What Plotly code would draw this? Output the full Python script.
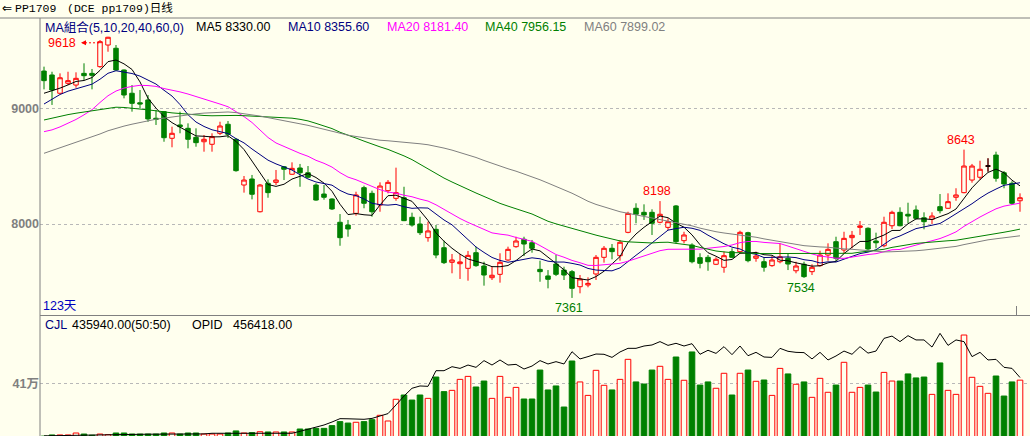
import plotly.graph_objects as go
import pandas as pd

W, H = 1030, 436
BG = "#FFFFEE"
UP = "#FF0000"
DOWN = "#008000"
GRAY = "#808080"

# ---------------- data ----------------
days = list(range(123))

opens = [9322, 9288, 9130, 9216, 9201, 9302, 9302, 9360, 9547, 9519,
         9331, 9130, 9048, 9072, 8914, 8971, 8741, 8856, 8827, 8749,
         8711, 8689, 8784, 8862, 8732, 8337, 8389, 8106, 8352, 8360,
         8495, 8430, 8484, 8443, 8337, 8259, 8216, 8015, 7991, 8092,
         8314, 8265, 8164, 8288, 8222, 8227, 8058, 8000, 7882, 7954,
         7795, 7669, 7657, 7617, 7752, 7637, 7536, 7565, 7689, 7804,
         7868, 7838, 7608, 7551, 7654, 7602, 7588, 7458, 7473, 7568,
         7712, 7790, 7726, 7928, 8136, 8101, 8101, 8015, 7971, 8156,
         7856, 7818, 7709, 7712, 7652, 7626, 7761, 7761, 7925, 7704,
         7674, 7640, 7674, 7704, 7596, 7652, 7588, 7640, 7732, 7847,
         7775, 7882, 7971, 7963, 7853, 7812, 7985, 8101, 8084, 8121,
         8054, 8041, 8150, 8136, 8231, 8271, 8380, 8404, 8501, 8596,
         8443, 8352, 8201]
highs = [9360, 9316, 9302, 9316, 9311, 9389, 9340, 9590, 9618, 9547,
         9335, 9201, 9158, 9115, 8985, 8975, 8841, 8971, 8870, 8827,
         8769, 8784, 8884, 8890, 8741, 8415, 8424, 8346, 8386, 8467,
         8501, 8533, 8519, 8501, 8352, 8337, 8222, 8086, 8035, 8279,
         8331, 8288, 8360, 8380, 8487, 8322, 8098, 8063, 8020, 7991,
         7856, 7741, 7741, 7767, 7804, 7674, 7631, 7747, 7804, 7890,
         7890, 7862, 7683, 7602, 7732, 7631, 7602, 7559, 7539, 7732,
         7810, 7827, 7862, 8106, 8179, 8170, 8127, 8198, 8049, 8164,
         7933, 7833, 7747, 7732, 7712, 7761, 7790, 7942, 7933, 7761,
         7712, 7723, 7833, 7741, 7674, 7674, 7652, 7769, 7833, 7890,
         7933, 7940, 8026, 7971, 7925, 8063, 8115, 8144, 8184, 8160,
         8101, 8101, 8259, 8265, 8309, 8643, 8519, 8547, 8568, 8625,
         8458, 8370, 8265]
lows = [9164, 9029, 9125, 9201, 9178, 9245, 9164, 9350, 9489, 9325,
        9086, 8971, 9000, 8884, 8856, 8711, 8663, 8784, 8654, 8668,
        8625, 8625, 8769, 8743, 8452, 8271, 8213, 8100, 8227, 8337,
        8380, 8425, 8322, 8395, 8201, 8210, 8121, 7812, 7890, 8072,
        8136, 8063, 8106, 8265, 8201, 8025, 7977, 7905, 7847, 7704,
        7654, 7574, 7525, 7510, 7630, 7467, 7516, 7493, 7680, 7795,
        7723, 7752, 7501, 7444, 7550, 7516, 7361, 7401, 7453, 7516,
        7666, 7695, 7683, 7920, 8006, 8035, 7905, 8006, 7948, 7833,
        7833, 7660, 7617, 7596, 7645, 7579, 7705, 7747, 7669, 7674,
        7588, 7630, 7660, 7602, 7574, 7534, 7559, 7631, 7683, 7674,
        7741, 7790, 7905, 7761, 7790, 7799, 7957, 7980, 8006, 8040,
        7954, 8000, 8092, 8130, 8201, 8265, 8357, 8380, 8452, 8366,
        8309, 8165, 8106]
closes = [9239, 9158, 9264, 9239, 9259, 9282, 9285, 9576, 9614, 9331,
          9115, 9043, 9037, 8908, 8905, 8746, 8784, 8841, 8732, 8703,
          8732, 8755, 8847, 8775, 8461, 8380, 8257, 8337, 8271, 8380,
          8473, 8481, 8443, 8404, 8207, 8231, 8130, 7882, 7957, 8251,
          8179, 8106, 8328, 8360, 8271, 8029, 7991, 7925, 7940, 7732,
          7666, 7689, 7672, 7729, 7640, 7559, 7557, 7669, 7781, 7853,
          7827, 7790, 7588, 7522, 7565, 7559, 7444, 7525, 7487, 7712,
          7790, 7761, 7842, 8092, 8084, 8078, 8006, 8084, 8020, 7847,
          7905, 7674, 7660, 7674, 7695, 7726, 7712, 7928, 7683, 7723,
          7626, 7689, 7717, 7654, 7637, 7545, 7626, 7732, 7781, 7704,
          7876, 7902, 7983, 7784, 7838, 8015, 8101, 7985, 8069, 8049,
          8020, 8069, 8115, 8193, 8251, 8501, 8501, 8473, 8501, 8395,
          8346, 8179, 8227]

# CJL (volume) and OPID (open interest)
volume = [3000, 12000, 12000, 12000, 27000, 19000, 10000, 19000, 14000, 27000,
          27000, 19000, 19000, 19000, 19000, 27000, 27000, 19000, 27000, 27000,
          19000, 19000, 19000, 27000, 43000, 27000, 30000, 37000, 35000, 35000,
          35000, 35000, 58000, 58000, 63000, 63000, 84000, 115000, 104000, 110000,
          115000, 130000, 164000, 120000, 288000, 321000, 282000, 321000, 295000, 460000,
          347000, 357000, 442000, 465000, 383000, 429000, 295000, 465000, 303000, 380000,
          290000, 290000, 514000, 360000, 391000, 228000, 584000, 422000, 318000, 512000,
          396000, 360000, 442000, 597000, 422000, 406000, 514000, 543000, 442000, 615000,
          435000, 654000, 398000, 422000, 373000, 489000, 321000, 489000, 514000, 427000,
          437000, 318000, 527000, 484000, 404000, 422000, 303000, 450000, 342000, 398000,
          574000, 342000, 380000, 398000, 344000, 496000, 429000, 429000, 484000, 453000,
          460000, 326000, 569000, 357000, 326000, 785000, 458000, 388000, 334000, 468000,
          313000, 422000, 435940]
opid = [5000, 6000, 8000, 10000, 12000, 15000, 15000, 16000, 16000, 17000,
        17000, 17000, 17000, 18000, 18000, 18000, 19000, 19000, 20000, 20000,
        20000, 25000, 25000, 25000, 25000, 25000, 25000, 25000, 25000, 25000,
        25000, 25000, 40000, 55000, 71000, 89000, 112000, 138000, 137000, 135000,
        133000, 140000, 160000, 177000, 244000, 313000, 373000, 391000, 388000, 509000,
        509000, 540000, 527000, 553000, 535000, 587000, 553000, 592000, 553000, 558000,
        522000, 545000, 587000, 561000, 579000, 561000, 656000, 600000, 618000, 638000,
        636000, 612000, 654000, 682000, 682000, 700000, 708000, 734000, 705000, 721000,
        700000, 718000, 636000, 667000, 643000, 695000, 633000, 700000, 625000, 651000,
        615000, 612000, 682000, 659000, 651000, 649000, 600000, 651000, 592000, 623000,
        661000, 636000, 695000, 645000, 661000, 759000, 777000, 734000, 780000, 747000,
        747000, 692000, 798000, 705000, 747000, 734000, 618000, 651000, 592000, 597000,
        535000, 527000, 456418]

# closes before the visible window (estimated so the averages start where the picture shows them)
prior_closes = [7780, 7800, 7850, 7830, 7900, 7920, 7960, 7940, 8000, 8030,
                8060, 8050, 8100, 8120, 8150, 8170, 8200, 8230, 8260, 8350,
                8500, 8600, 8700, 8780, 8850, 8920, 9000, 9090,
                9150, 9200, 9250, 9300, 9280, 9220, 9150, 9100, 9050, 9000, 8950, 8910,
                8850, 8750, 8650, 8560, 8480, 8400, 8325,
                8450, 8520, 8605,
                8750, 8850, 8950, 9050, 9120,
                9050, 9150, 9100, 9111]

ma_periods = [5, 10, 20, 40, 60]
ma_colors = ["#000000", "#000080", "#FF00FF", "#008000", "#808080"]
ma_legend_values = [8330.00, 8355.60, 8181.40, 7956.15, 7899.02]
ma_legend_x = [194, 286, 385, 483, 582]

price_ticks = [8000, 9000]
vol_ticks = [410000]
vol_tick_text = ["41万"]

cjl_last = 435940.00
opid_last = 456418.00

high_marks = [8, 77, 115]
low_marks = [66, 95]


def px(x):
    return x / W


def py(y):
    return 1 - y / H


full = pd.Series(prior_closes + closes, dtype=float)
mas = [full.rolling(n).mean().iloc[len(prior_closes):].tolist() for n in ma_periods]

fig = go.Figure()

fig.add_trace(go.Candlestick(
    x=days, open=opens, high=highs, low=lows, close=closes,
    increasing=dict(line=dict(color=UP, width=1), fillcolor=BG),
    decreasing=dict(line=dict(color=DOWN, width=1), fillcolor=DOWN),
    whiskerwidth=0, hoverinfo="skip", xaxis="x", yaxis="y"))

doji = [i for i in days if opens[i] == closes[i]]
fig.add_trace(go.Candlestick(
    x=doji, open=[opens[i] for i in doji], high=[highs[i] for i in doji],
    low=[lows[i] for i in doji], close=[closes[i] for i in doji],
    increasing=dict(line=dict(color="#000000", width=1), fillcolor="#000000"),
    decreasing=dict(line=dict(color="#000000", width=1), fillcolor="#000000"),
    whiskerwidth=0, hoverinfo="skip", xaxis="x", yaxis="y"))

for ma, col in zip(mas, ma_colors):
    fig.add_trace(go.Scatter(x=days, y=ma, mode="lines", line=dict(color=col, width=1),
                             hoverinfo="skip", xaxis="x", yaxis="y"))

is_up = [closes[i] >= opens[i] for i in days]
fig.add_trace(go.Bar(
    x=days, y=volume, width=0.7,
    marker=dict(color=[BG if u else DOWN for u in is_up],
                line=dict(color=[UP if u else DOWN for u in is_up], width=1)),
    hoverinfo="skip", xaxis="x", yaxis="y2"))
fig.add_trace(go.Scatter(x=days, y=opid, mode="lines", line=dict(color="#000000", width=1),
                         hoverinfo="skip", xaxis="x", yaxis="y2"))

TXT = "Liberation Sans, Noto Sans CJK SC, sans-serif"
ann = []


def label(text, x, y, color, size=12, family=TXT, xanchor="left"):
    ann.append(dict(text=text, x=px(x), y=py(y), xref="paper", yref="paper",
                    xanchor=xanchor, yanchor="middle", showarrow=False,
                    font=dict(family=family, size=size, color=color)))


MONO = "Liberation Mono, Noto Sans CJK SC, monospace"
label("⇐", 0, 8, "#000000", 12, "DejaVu Sans")
label("PP1709", 13, 8, "#000000", 11.5, MONO)
label("(DCE pp1709)日线", 65, 8, "#000000", 11.5, MONO)

label("MA組合(5,10,20,40,60,0)", 43, 27, "#000080", 12.5)
for n, v, x, col in zip(ma_periods, ma_legend_values, ma_legend_x, ma_colors):
    label(f"MA{n} {v:.2f}", x, 27, col, 12.5)

label(f"{len(days)}天", 41, 306, "#0000C0", 12.5)
label("CJL", 43, 325, "#000080", 12.5)
label(f"{cjl_last:.2f}(50:50)", 70, 325, "#000000", 12.5)
label("OPID", 190, 325, "#000000", 12.5)
label(f"{opid_last:.2f}", 231, 325, "#000000", 12.5)

for i in high_marks:
    if i == high_marks[0]:
        ann.append(dict(text=str(highs[i]), x=i, y=highs[i], xref="x", yref="y",
                        xanchor="right", yanchor="middle", xshift=-30, yshift=-6,
                        showarrow=False, font=dict(family=TXT, size=12.5, color=UP)))
        ann.append(dict(text="", x=i, y=highs[i], xref="x", yref="y", xshift=-27, yshift=-6,
                        showarrow=True, ax=5, ay=0, arrowhead=2, arrowsize=1,
                        arrowwidth=1, arrowcolor=UP))
    else:
        ann.append(dict(text=str(highs[i]), x=i, y=highs[i], xref="x", yref="y",
                        xanchor="center", yanchor="bottom", yshift=1, xshift=-3,
                        showarrow=False, font=dict(family=TXT, size=12.5, color=UP)))
for i in low_marks:
    ann.append(dict(text=str(lows[i]), x=i, y=lows[i], xref="x", yref="y",
                    xanchor="center", yanchor="top", yshift=-1, xshift=-3,
                    showarrow=False, font=dict(family=TXT, size=12.5, color=DOWN)))

shapes = [
    dict(type="line", xref="paper", yref="paper", x0=0, x1=1, y0=py(18), y1=py(18),
         line=dict(color=GRAY, width=1)),
    dict(type="line", xref="paper", yref="paper", x0=px(40), x1=px(40), y0=py(18), y1=0,
         line=dict(color=GRAY, width=1)),
    dict(type="line", xref="paper", yref="paper", x0=px(40), x1=1, y0=py(315.5), y1=py(315.5),
         line=dict(color=GRAY, width=1)),
    dict(type="line", xref="paper", yref="paper", x0=px(1016.5), x1=px(1016.5), y0=py(306), y1=py(315),
         line=dict(color=GRAY, width=1)),
    dict(type="line", xref="x", yref="y", xsizemode="pixel", ysizemode="pixel",
         xanchor=high_marks[0], yanchor=highs[high_marks[0]], x0=-23, x1=-9, y0=-6, y1=-6,
         line=dict(color=UP, width=1, dash="2px,2px")),
]

fig.update_layout(
    width=W, height=H, margin=dict(l=0, r=0, t=0, b=0),
    paper_bgcolor=BG, plot_bgcolor=BG, showlegend=False, hovermode=False,
    boxgap=0.2,
    xaxis=dict(domain=[px(40), 1], range=[-0.5, 123.25], visible=False,
               rangeslider=dict(visible=False), fixedrange=True),
    yaxis=dict(domain=[py(315), py(18)], range=[7213.5, 9780.5], anchor="x",
               tickvals=price_ticks, ticktext=[str(t) for t in price_ticks],
               showgrid=True, gridcolor="#B8B8B8", griddash="dot", gridwidth=1,
               zeroline=False, showline=False, ticks="", automargin=False,
               tickfont=dict(family="Liberation Sans", size=12.5, color=GRAY, weight="bold")),
    yaxis2=dict(domain=[0, py(316)], range=[3868, 932188], anchor="x",
                tickvals=vol_ticks, ticktext=vol_tick_text,
                showgrid=True, gridcolor="#B8B8B8", griddash="dot", gridwidth=1,
                zeroline=False, showline=False, ticks="", automargin=False,
                tickfont=dict(family="Liberation Sans, Noto Sans CJK SC", size=12.5, color=GRAY,
                              weight="bold")),
    annotations=ann, shapes=shapes,
)

fig.write_html("out.html")
